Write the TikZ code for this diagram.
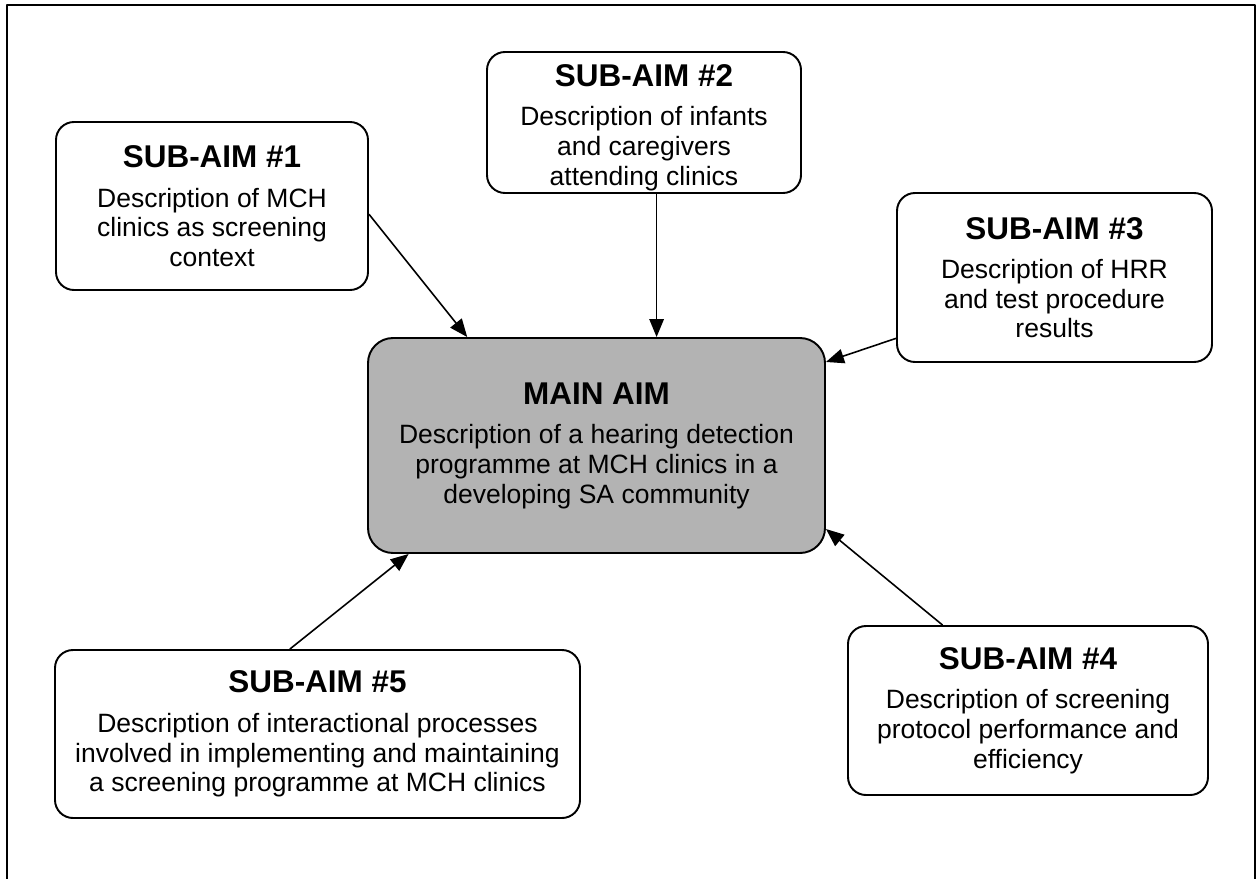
\documentclass[tikz,border=0pt]{standalone}
\usepackage{fontspec}
\setmainfont{Liberation Sans}
\usetikzlibrary{arrows.meta}
\definecolor{aimgray}{RGB}{179,179,179}
\newcommand{\aimhead}{\fontsize{17.9}{19}\selectfont\bfseries}
\begin{document}
\begin{tikzpicture}[line join=round, >={Triangle[length=0.36cm,width=0.29cm]},
  font=\fontsize{15.08}{16.8}\selectfont]
\tikzset{aimbox/.style={draw, line width=1.1pt, rounded corners=0.36cm, align=center, inner sep=0pt},
  mainbox/.style={aimbox, fill=aimgray, rounded corners=0.5cm},
  aimarrow/.style={->, line width=0.9pt}}
\useasboundingbox (0,0) rectangle (25.14,-17.58);
\draw[line width=1.1pt] (0.14,-17.58) -- (0.14,-0.1) -- (25.1,-0.1) -- (25.1,-17.58);
\node[mainbox, minimum width=9.14cm, minimum height=4.3cm] (main) at (11.93,-8.91)
  {{\aimhead MAIN AIM}\\[5.9pt]Description of a hearing detection\\programme at MCH clinics in a\\developing SA community};
\node[aimbox, minimum width=6.24cm, minimum height=3.36cm] (s1) at (4.24,-4.12)
  {{\aimhead SUB-AIM \#1}\\[5.7pt]Description of MCH\\clinics as screening\\context};
\node[aimbox, minimum width=6.28cm, minimum height=2.82cm] (s2) at (12.88,-2.45) {};
\node[align=center, inner sep=0pt] (s2text) at ([yshift=-0.1cm]s2.center)
  {{\aimhead SUB-AIM \#2}\\[5.7pt]Description of infants\\and caregivers\\attending clinics};
\node[aimbox, minimum width=6.3cm, minimum height=3.38cm] (s3) at (21.09,-5.55)
  {{\aimhead SUB-AIM \#3}\\[5.7pt]Description of HRR\\and test procedure\\results};
\node[aimbox, minimum width=7.2cm, minimum height=3.38cm] (s4) at (20.56,-14.21)
  {{\aimhead SUB-AIM \#4}\\[5.7pt]Description of screening\\protocol performance and\\efficiency};
\node[aimbox, minimum width=10.5cm, minimum height=3.36cm] (s5) at (6.35,-14.68)
  {{\aimhead SUB-AIM \#5}\\[5.7pt]Description of interactional processes\\involved in implementing and maintaining\\a screening programme at MCH clinics};
\draw[aimarrow] (s1.-3) -- (main.140.6);
\draw[aimarrow] (s2.-80) -- (s2.-80 |- main.north);
\draw[aimarrow] (s3.201) -- (main.20);
\draw[aimarrow] (s4.135) -- (main.-20);
\draw[aimarrow] (s5.108) -- (main.210.6);
\end{tikzpicture}
\end{document}
